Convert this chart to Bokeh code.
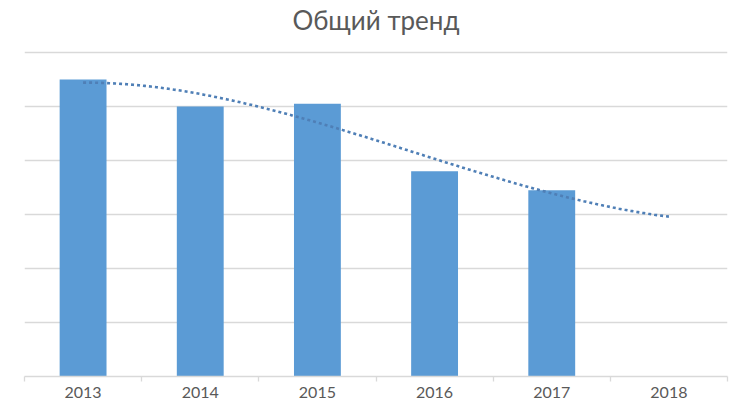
import numpy as np
from bokeh.plotting import figure
from bokeh.models import Range1d, FixedTicker, ColumnDataSource
from bokeh.core.properties import value
from bokeh.embed import file_html
from bokeh.resources import INLINE

# Data
years = ["2013", "2014", "2015", "2016", "2017", "2018"]
bar_years = ["2013", "2014", "2015", "2016", "2017"]
values = [55, 50, 50.5, 38, 34.5]
y_ticks = [0, 10, 20, 30, 40, 50, 60]
title_text = "Общий тренд"

BAR = "#5b9bd5"
GRID = "#d9d9d9"
TXT = "#595959"

# layout: frame spans from the top of the canvas to the x axis (376px);
# the value axis (0..60) occupies the lower 324px, the title sits above it
FRAME_H = 376
PLOT_H = 324
px_per_unit = PLOT_H / y_ticks[-1]
y_top = FRAME_H / px_per_unit

p = figure(width=752, height=400, output_backend="svg", toolbar_location=None,
           x_range=Range1d(0, len(years)), y_range=Range1d(0, y_top),
           min_border_left=24, min_border_right=25, min_border_top=0, min_border_bottom=24,
           background_fill_color="white", border_fill_color="white")
p.outline_line_color = None
p.yaxis.visible = False
p.xgrid.visible = False
p.ygrid.ticker = FixedTicker(ticks=y_ticks)
p.ygrid.grid_line_color = GRID
p.ygrid.grid_line_width = 1.3

# x axis: labels at category centres, ticks at category boundaries
idx = {y: i for i, y in enumerate(years)}
centres = [idx[y] + 0.5 for y in years]
xa = p.xaxis[0]
xa.ticker = FixedTicker(ticks=centres, minor_ticks=list(range(len(years) + 1)))
xa.major_label_overrides = {c: y for c, y in zip(centres, years)}
xa.major_tick_out = 0
xa.major_tick_in = 0
xa.minor_tick_out = 5
xa.minor_tick_in = 0
xa.minor_tick_line_color = GRID
xa.minor_tick_line_width = 1.3
xa.major_label_text_font = "Lato"
xa.major_label_text_font_size = "16px"
xa.major_label_text_color = TXT
xa.major_label_standoff = 5
xa.axis_line_color = GRID
xa.axis_line_width = 1.3

# bars
bx = [idx[y] + 0.5 for y in bar_years]
src = ColumnDataSource(dict(x=bx, top=values))
p.vbar(x="x", top="top", width=0.4, bottom=0, source=src, fill_color=BAR, line_color=None)

# cubic polynomial trend, forecast one period forward
xi = np.array([idx[y] for y in bar_years], dtype=float)
coef = np.polyfit(xi, np.array(values, dtype=float), 3)
xs = np.linspace(0, len(years) - 1, 200)
ys = np.polyval(coef, xs)
p.line(xs + 0.5, ys, line_color="#4f7fb6", line_width=2.6, line_dash="3 3")

# title (baseline ~19.5px below the top of the canvas)
p.text(x=[len(years) / 2], y=[y_top - 19.5 / px_per_unit], text=[title_text],
       text_align="center", text_baseline="alphabetic", text_color=TXT,
       text_font=value("Lato"), text_font_size="26px")

open("out.html", "w").write(file_html(p, INLINE))
